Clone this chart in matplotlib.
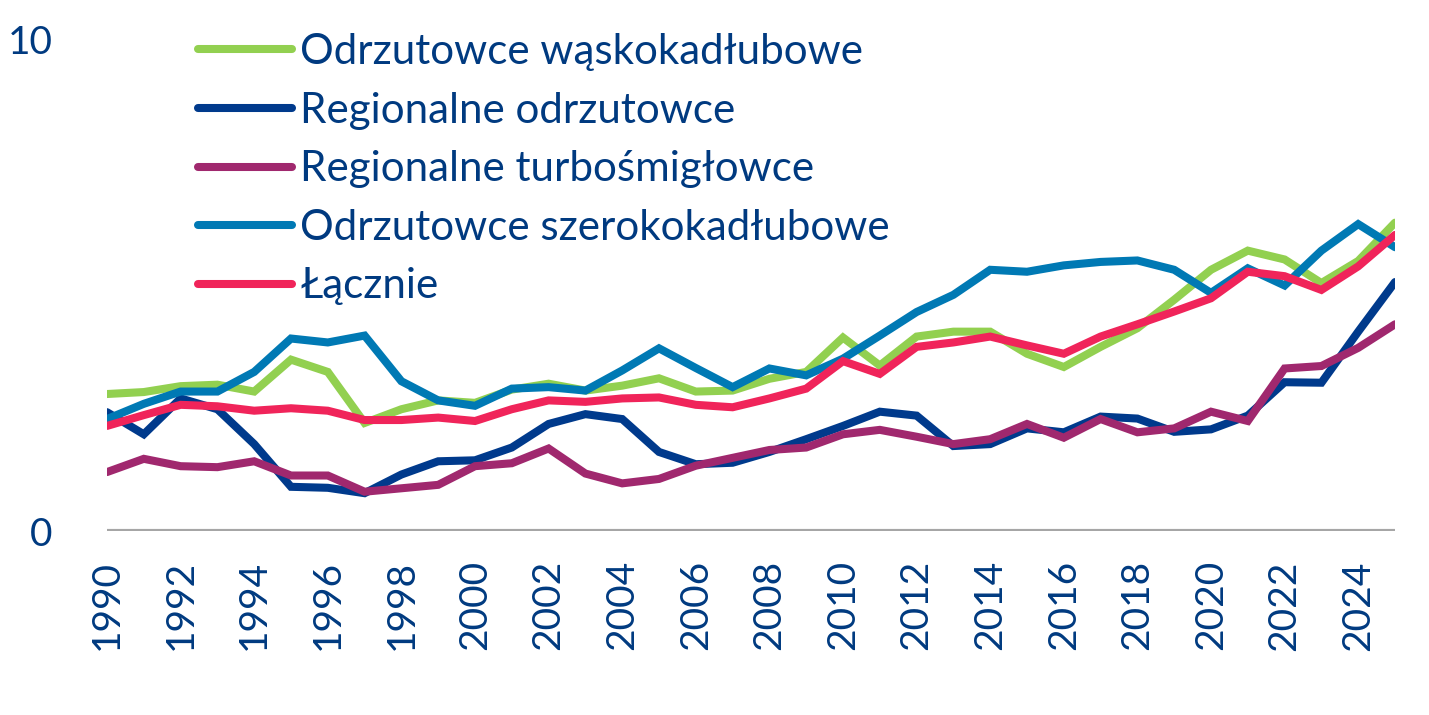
import matplotlib.pyplot as plt

# Dane
lata = list(range(1990, 2026))

waskokadlubowe = [2.79, 2.83, 2.95, 2.98, 2.84, 3.49, 3.24, 2.20, 2.48, 2.66,
                  2.61, 2.88, 3.00, 2.86, 2.96, 3.11, 2.84, 2.86, 3.10, 3.24,
                  3.94, 3.37, 3.96, 4.06, 4.06, 3.61, 3.34, 3.75, 4.13, 4.71,
                  5.32, 5.71, 5.53, 5.05, 5.50, 6.28]
regionalne_odrzutowce = [2.42, 1.97, 2.70, 2.48, 1.77, 0.90, 0.88, 0.77, 1.15, 1.42,
                         1.44, 1.70, 2.18, 2.38, 2.28, 1.61, 1.36, 1.39, 1.61, 1.87,
                         2.14, 2.43, 2.35, 1.73, 1.77, 2.09, 2.01, 2.33, 2.29, 2.02,
                         2.07, 2.35, 3.03, 3.02, 4.06, 5.07]
turbosmiglowce = [1.20, 1.47, 1.32, 1.30, 1.42, 1.13, 1.13, 0.80, 0.87, 0.94,
                  1.32, 1.38, 1.68, 1.17, 0.97, 1.06, 1.33, 1.49, 1.65, 1.70,
                  1.97, 2.06, 1.92, 1.77, 1.87, 2.18, 1.90, 2.28, 2.01, 2.09,
                  2.43, 2.24, 3.31, 3.36, 3.73, 4.21]
szerokokadlubowe = [2.28, 2.59, 2.84, 2.84, 3.24, 3.92, 3.84, 3.98, 3.05, 2.66,
                    2.55, 2.90, 2.93, 2.86, 3.27, 3.72, 3.32, 2.93, 3.31, 3.17,
                    3.51, 3.98, 4.46, 4.81, 5.32, 5.28, 5.41, 5.48, 5.51, 5.32,
                    4.85, 5.35, 5.00, 5.71, 6.25, 5.78]
lacznie = [2.14, 2.36, 2.57, 2.54, 2.45, 2.50, 2.45, 2.26, 2.26, 2.31,
           2.24, 2.48, 2.66, 2.63, 2.70, 2.72, 2.57, 2.52, 2.70, 2.90,
           3.46, 3.20, 3.75, 3.84, 3.96, 3.78, 3.61, 3.96, 4.21, 4.47,
           4.74, 5.28, 5.19, 4.91, 5.39, 6.03]

serie = [
    ("Odrzutowce wąskokadłubowe", waskokadlubowe, "#92D050"),
    ("Regionalne odrzutowce", regionalne_odrzutowce, "#003A8C"),
    ("Regionalne turbośmigłowce", turbosmiglowce, "#A0286E"),
    ("Odrzutowce szerokokadłubowe", szerokokadlubowe, "#0079B4"),
    ("Łącznie", lacznie, "#F0245A"),
]

TEKST = "#003A80"
plt.rcParams['font.family'] = ['Lato', 'DejaVu Sans']

fig = plt.figure(figsize=(14.29, 7.15), dpi=100)
ax = fig.add_axes([107 / 1429, 1 - 531 / 715, (1395 - 107) / 1429, (531 - 40) / 715])

for nazwa, wartosci, kolor in serie:
    ax.plot(lata, wartosci, color=kolor, lw=5.8, label=nazwa,
            solid_capstyle="round", solid_joinstyle="miter")

ax.axhline(0, color="#A6A6A6", lw=3, zorder=0)
ax.set_xlim(1990, 2025)
ax.set_ylim(0, 10)
ax.set_yticks([0, 10])
ax.set_yticklabels(["0", "10"], fontsize=28, color=TEKST)
ax.set_xticks(list(range(1990, 2025, 2)))
ax.set_xticklabels([str(r) for r in range(1990, 2025, 2)], rotation=90,
                   fontsize=28, color=TEKST)
ax.tick_params(axis="y", length=0, pad=39)
ax.tick_params(axis="x", length=0, pad=21)
for s in ax.spines.values():
    s.set_visible(False)

leg = fig.legend(loc="upper left", bbox_to_anchor=(198 / 1429, 1 - 33 / 715),
                 frameon=False, fontsize=30.3, handlelength=2.23,
                 handletextpad=0.2, labelspacing=0.49, borderpad=0,
                 borderaxespad=0)
for t in leg.get_texts():
    t.set_color(TEKST)

fig.savefig("out.png", dpi=100)
